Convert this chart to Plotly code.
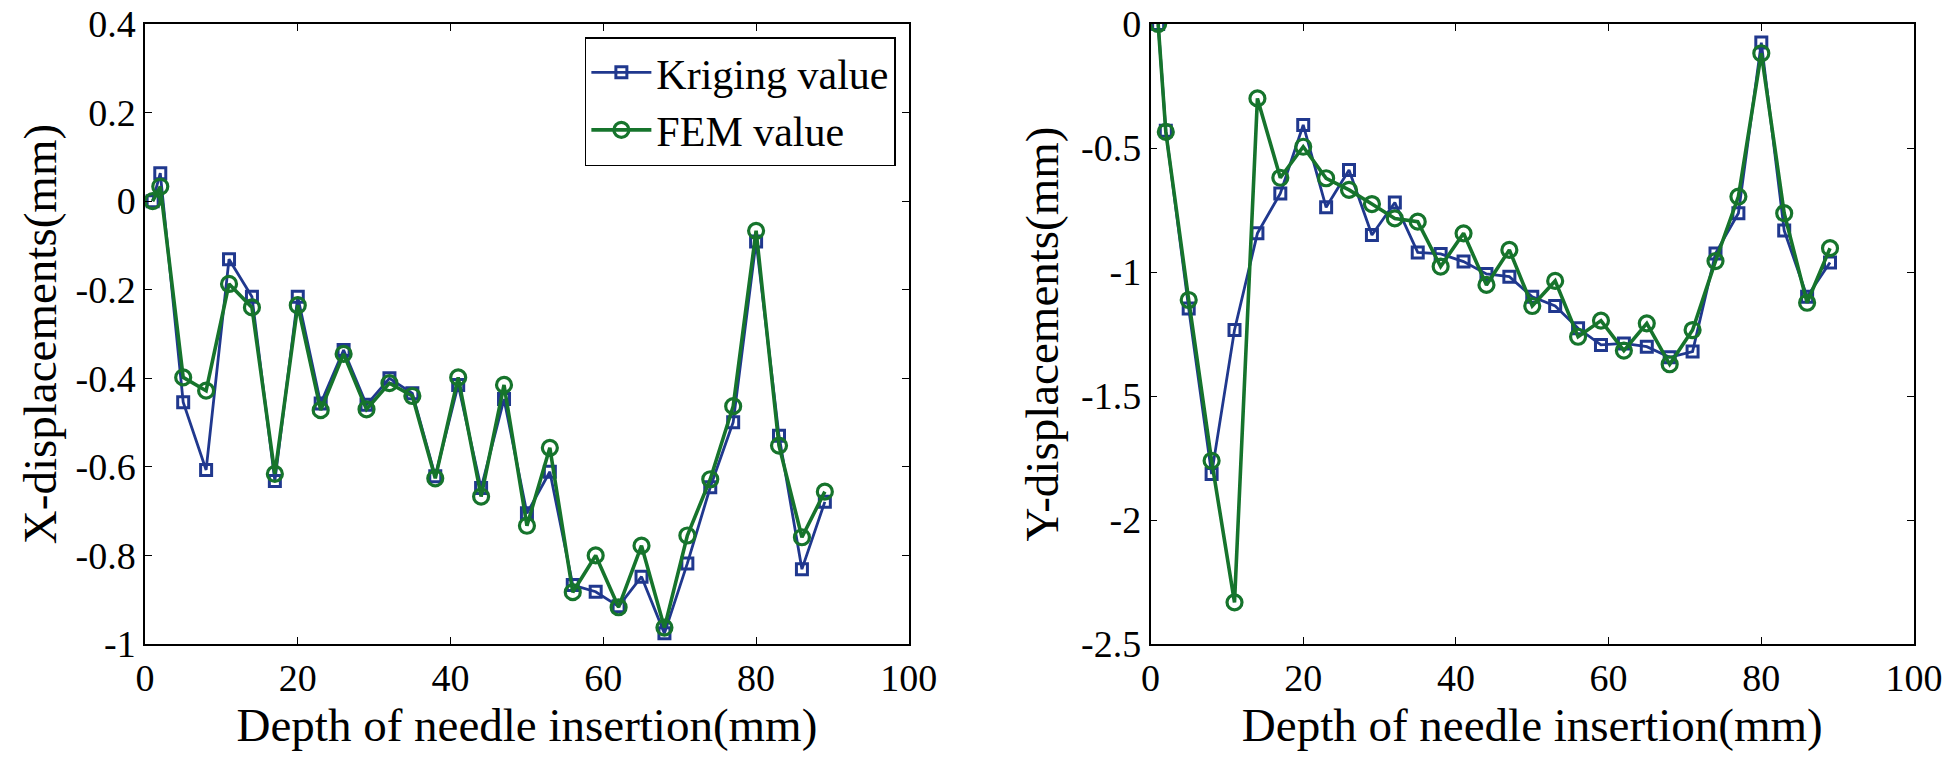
import plotly.graph_objects as go

depth = [1, 2, 5, 8, 11, 14, 17, 20, 23, 26, 29, 32, 35, 38, 41, 44, 47, 50,
         53, 56, 59, 62, 65, 68, 71, 74, 77, 80, 83, 86, 89]

x_kriging = [0.0, 0.063, -0.454, -0.607, -0.131, -0.216, -0.632, -0.216, -0.457,
             -0.336, -0.46, -0.40, -0.434, -0.621, -0.415, -0.648, -0.447, -0.705,
             -0.611, -0.867, -0.882, -0.915, -0.848, -0.976, -0.818, -0.646, -0.499,
             -0.091, -0.53, -0.831, -0.679]
x_fem = [0.0, 0.033, -0.398, -0.428, -0.187, -0.24, -0.616, -0.235, -0.472,
         -0.345, -0.47, -0.411, -0.44, -0.626, -0.398, -0.667, -0.415, -0.733,
         -0.557, -0.883, -0.80, -0.917, -0.778, -0.963, -0.755, -0.628, -0.463,
         -0.067, -0.552, -0.759, -0.656]

y_kriging = [0.0, -0.43, -1.147, -1.815, -1.234, -0.844, -0.683, -0.407, -0.739,
             -0.589, -0.851, -0.72, -0.921, -0.927, -0.958, -1.008, -1.019, -1.1,
             -1.137, -1.227, -1.294, -1.288, -1.301, -1.344, -1.321, -0.925, -0.763,
             -0.075, -0.833, -1.1, -0.962]
y_fem = [0.0, -0.435, -1.113, -1.761, -2.332, -0.30, -0.62, -0.495, -0.622,
         -0.669, -0.726, -0.784, -0.797, -0.978, -0.844, -1.052, -0.911, -1.137,
         -1.036, -1.261, -1.196, -1.317, -1.207, -1.372, -1.234, -0.956, -0.696,
         -0.118, -0.763, -1.124, -0.904]

x_ticks = [0, 20, 40, 60, 80, 100]
left_yticks = [0.4, 0.2, 0, -0.2, -0.4, -0.6, -0.8, -1]
right_yticks = [0, -0.5, -1, -1.5, -2, -2.5]

BLUE = "rgb(32,56,142)"
GREEN = "rgb(22,116,44)"
FONT = "Liberation Serif"

fig = go.Figure()

def add_pair(xa, ya, kv, fv, show):
    fig.add_trace(go.Scatter(
        x=depth, y=kv, xaxis=xa, yaxis=ya, name="Kriging value", mode="lines+markers",
        line=dict(color=BLUE, width=2.8),
        marker=dict(symbol="square-open", size=11, color=BLUE, line=dict(width=3)),
        showlegend=show))
    fig.add_trace(go.Scatter(
        x=depth, y=fv, xaxis=xa, yaxis=ya, name="FEM value", mode="lines+markers",
        line=dict(color=GREEN, width=3.6),
        marker=dict(symbol="circle-open", size=15, color=GREEN, line=dict(width=3.2)),
        showlegend=show))

add_pair("x", "y", x_kriging, x_fem, True)
add_pair("x2", "y2", y_kriging, y_fem, False)

W = 1958
H = 758
ML = 145
MT = 24
MR = W - 1914.3
MB = H - 644
PW = W - ML - MR
PH = H - MT - MB

axis_common = dict(
    showline=True, linecolor="black", linewidth=1.5, mirror="ticks",
    ticks="inside", ticklen=7, tickwidth=1.2, tickcolor="black",
    showgrid=False, zeroline=False, automargin=False,
    ticklabeloverflow="allow",
    tickfont=dict(family=FONT, size=38, color="black"),
)
xtitle = dict(text="Depth of needle insertion(mm)", font=dict(size=47), standoff=0)

fig.update_layout(
    width=W, height=H,
    margin=dict(l=ML, r=MR, t=MT, b=MB, autoexpand=False),
    paper_bgcolor="white", plot_bgcolor="white",
    font=dict(family=FONT, color="black"),
    xaxis=dict(domain=[0, (909 - ML) / PW], range=[0, 100], tickvals=x_ticks,
               title=xtitle, anchor="y", **axis_common),
    yaxis=dict(domain=[0, 1], range=[-1, 0.4], tickvals=left_yticks,
               ticktext=[f"{v:g}" for v in left_yticks],
               title=dict(text="X-displacements(mm)", font=dict(size=47), standoff=4),
               anchor="x", **axis_common),
    xaxis2=dict(domain=[(1150.7 - ML) / PW, 1], range=[0, 100], tickvals=x_ticks,
                title=xtitle, anchor="y2", **axis_common),
    yaxis2=dict(domain=[0, 1], range=[-2.5, 0], tickvals=right_yticks,
                ticktext=[f"{v:g}" for v in right_yticks],
                title=dict(text="Y-displacements(mm)", font=dict(size=47), standoff=8),
                anchor="x2", **axis_common),
    legend=dict(x=(896 - ML) / PW, y=(644 - 37) / PH, xanchor="right", yanchor="top",
                bgcolor="white", bordercolor="black", borderwidth=1.5,
                font=dict(family=FONT, size=42, color="black"),
                itemwidth=60, tracegroupgap=0),
)

# remove the browser's default 8px body margin so the figure fills the window exactly
fig.write_html("out.html", config={"displayModeBar": False},
               post_script="document.body.style.margin='0';")
